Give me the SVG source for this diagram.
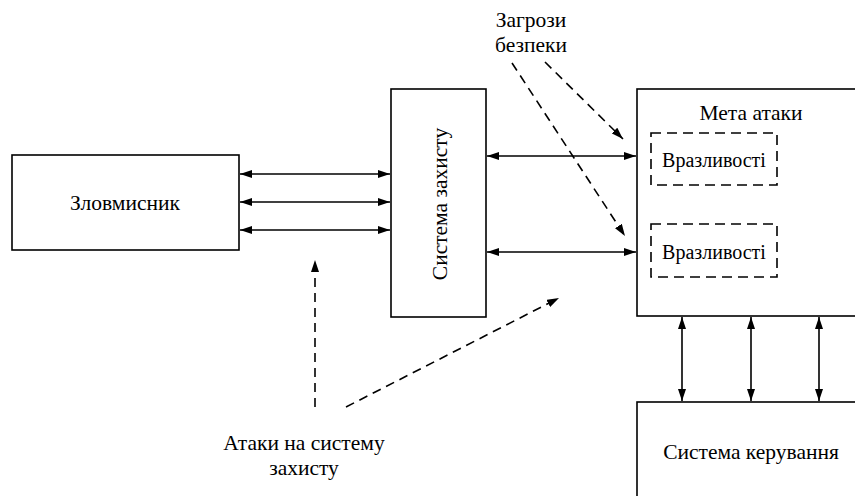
<svg xmlns="http://www.w3.org/2000/svg" width="855" height="496" viewBox="0 0 855 496">
<defs>
<marker id="ah" viewBox="0 0 12 8" refX="12" refY="4" markerWidth="12" markerHeight="8" markerUnits="userSpaceOnUse" orient="auto-start-reverse">
<path d="M0,0 L12,4 L0,8 z" fill="#000"/>
</marker>
<style>
.box{fill:#fff;stroke:#000;stroke-width:1.6}
.dbox{fill:none;stroke:#000;stroke-width:1.6;stroke-dasharray:10,6}
.t{font-family:'Liberation Serif','Times New Roman',serif;font-size:21.5px;fill:#000;text-anchor:middle;dominant-baseline:central}
.v{font-size:20px}
.c{stroke:#000;stroke-width:1.6;fill:none;marker-start:url(#ah);marker-end:url(#ah)}
.d{stroke:#000;stroke-width:1.6;fill:none;stroke-dasharray:9,6;marker-end:url(#ah)}
</style>
</defs>
<rect width="855" height="496" fill="#fff"/>
<g id="attacker"><rect class="box" x="12" y="155" width="227" height="95"/><text class="t" x="125" y="203">Зловмисник</text></g>
<g id="protection"><rect class="box" x="391" y="89" width="95" height="228"/><text class="t" transform="translate(440,204) rotate(-90)">Система захисту</text></g>
<g id="target"><rect class="box" x="637" y="89" width="230" height="227"/><text class="t" x="751" y="113">Мета атаки</text>
<g id="vuln1"><rect class="dbox" x="651" y="133" width="126" height="52"/><text class="t v" x="714" y="160">Вразливості</text></g>
<g id="vuln2"><rect class="dbox" x="651" y="224" width="126" height="53"/><text class="t v" x="714" y="252">Вразливості</text></g>
</g>
<g id="control"><rect class="box" x="637" y="402" width="230" height="110"/><text class="t" x="751" y="452">Система керування</text></g>
<g id="threats-label"><text class="t" x="531" y="20">Загрози</text><text class="t" x="531" y="45">безпеки</text></g>
<g id="attacks-label"><text class="t" x="304" y="443">Атаки на систему</text><text class="t" x="304" y="468">захисту</text></g>
<g id="connectors">
<line class="c" x1="240" y1="174" x2="390" y2="174"/>
<line class="c" x1="240" y1="202" x2="390" y2="202"/>
<line class="c" x1="240" y1="230" x2="390" y2="230"/>
<line class="c" x1="487" y1="156" x2="636" y2="156"/>
<line class="c" x1="487" y1="252" x2="636" y2="252"/>
<line class="c" x1="682" y1="317" x2="682" y2="401"/>
<line class="c" x1="751" y1="317" x2="751" y2="401"/>
<line class="c" x1="819" y1="317" x2="819" y2="401"/>
<line class="d" x1="545" y1="62" x2="623" y2="139"/>
<line class="d" x1="512" y1="63" x2="625" y2="236"/>
<line class="d" x1="315" y1="407" x2="315" y2="260"/>
<line class="d" x1="346" y1="407" x2="559" y2="298"/>
</g>
</svg>
